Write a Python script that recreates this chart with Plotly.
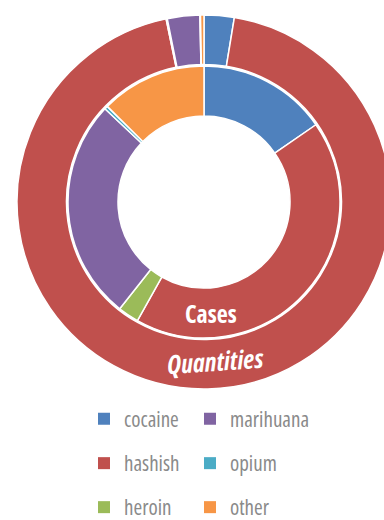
import plotly.graph_objects as go

# Share of seizures per drug type (percent)
drugs = ["cocaine", "hashish", "heroin", "marihuana", "opium", "other"]
cases = [15.4, 42.8, 2.5, 26.4, 0.4, 12.6]
quantities = [2.6, 94.2, 0.1, 2.8, 0.05, 0.3]
drug_colors = ["#4F81BD", "#C0504D", "#9BBB59", "#8064A2", "#4BACC6", "#F79646"]

# Legend grid: rows of (left column, right column)
legend_rows = [["cocaine", "marihuana"], ["hashish", "opium"], ["heroin", "other"]]
color_of = dict(zip(drugs, drug_colors))
cases_of = dict(zip(drugs, cases))

W, H = 408, 520
FONT = "Open Sans, Roboto, sans-serif"
COND = "<span style='font-stretch:condensed'>{}</span>"


def dom(cx, cy, r):
    return dict(x=[(cx - r) / W, (cx + r) / W], y=[(H - cy - r) / H, (H - cy + r) / H])


fig = go.Figure()

fig.add_trace(go.Pie(
    labels=drugs, values=quantities, name="Quantities",
    sort=False, direction="clockwise", rotation=0,
    hole=137.5 / 187, domain=dom(204, 202, 187),
    marker=dict(colors=drug_colors, line=dict(color="white", width=1.5)),
    textinfo="none", showlegend=False,
))
fig.add_trace(go.Pie(
    labels=drugs, values=cases, name="Cases",
    sort=False, direction="clockwise", rotation=0,
    hole=86 / 136, domain=dom(204, 202, 136),
    marker=dict(colors=drug_colors, line=dict(color="white", width=1.5)),
    textinfo="none", showlegend=False,
))

# One collapsed pie per legend cell, each with its own legend box
col_x = [84, 190]
row_y = [419, 463.5, 507.5]
legend_layout = {}
k = 0
for r, row in enumerate(legend_rows):
    for c, d in enumerate(row):
        k += 1
        lid = "legend" if k == 1 else f"legend{k}"
        fig.add_trace(go.Pie(
            labels=[COND.format(d)], values=[cases_of[d]], sort=False,
            marker=dict(colors=[color_of[d]], line=dict(width=0)),
            textinfo="none", hoverinfo="skip", showlegend=True, legend=lid,
            domain=dict(x=[0.5, 0.5001], y=[0.6, 0.6001]),
        ))
        legend_layout[lid] = dict(
            x=col_x[c] / W, y=(H - row_y[r]) / H,
            xref="paper", yref="paper", xanchor="left", yanchor="middle",
            orientation="h", bgcolor="rgba(0,0,0,0)",
            font=dict(family=FONT, size=21, color="#8a8a8a"),
        )
fig.update_layout(**legend_layout)

fig.add_annotation(
    text=COND.format("Cases"), x=210.5 / W, y=(H - 313) / H, xref="paper", yref="paper",
    xanchor="center", yanchor="middle",
    showarrow=False, font=dict(family=FONT, size=24, color="white", weight="bold"),
)
fig.add_annotation(
    text=COND.format("Quantities"), x=215 / W, y=(H - 361) / H, xref="paper", yref="paper",
    xanchor="center", yanchor="middle",
    showarrow=False, textangle=-4,
    font=dict(family=FONT, size=26, color="white", weight="bold", style="italic"),
)

fig.update_layout(
    width=W, height=H, margin=dict(l=0, r=0, t=0, b=0, autoexpand=False),
    paper_bgcolor="white", plot_bgcolor="white",
)

fig.write_html(
    "out.html",
    post_script=(
        "document.documentElement.style.overflow='hidden';"
        "document.body.style.overflow='hidden';"
    ),
)
